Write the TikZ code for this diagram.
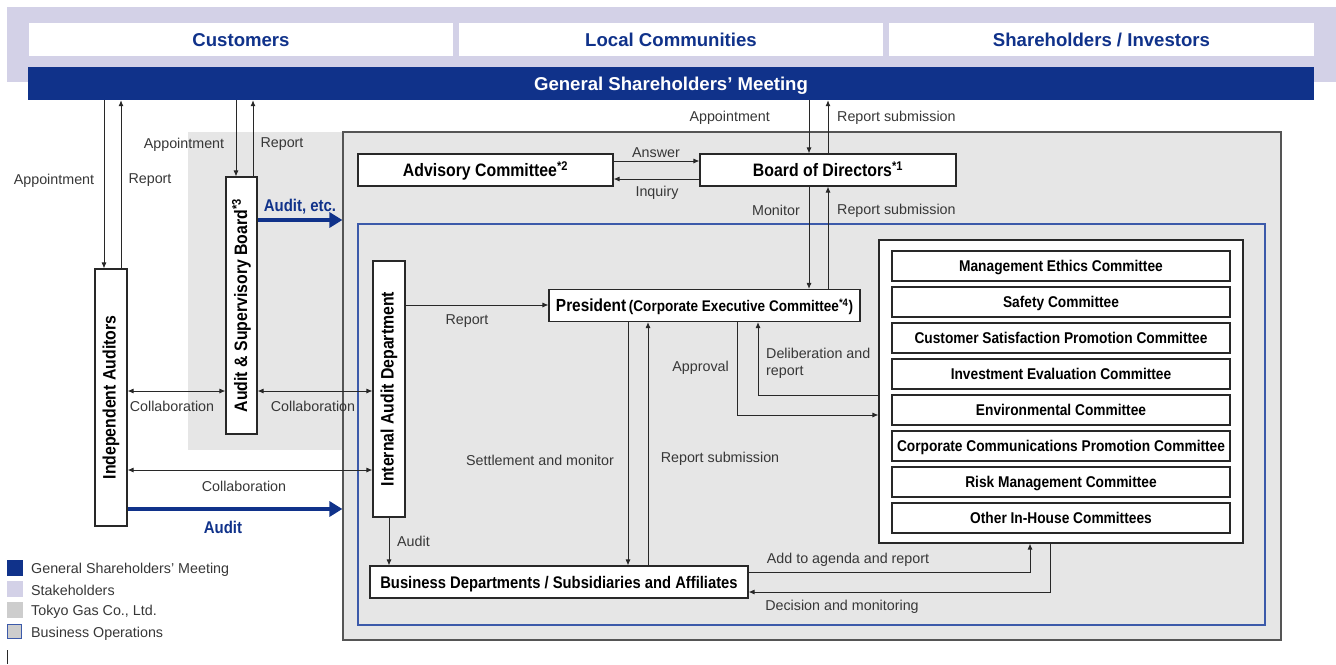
\documentclass[tikz,border=0pt]{standalone}
\usepackage{fontspec}
\usepackage{graphicx}
\setmainfont{Liberation Sans}
\newfontfamily\cf{Liberation Sans}[FakeStretch=0.88]
\usetikzlibrary{arrows.meta}
\definecolor{navy}{RGB}{16,50,138}
\definecolor{lav}{RGB}{211,209,231}
\definecolor{pgray}{RGB}{230,230,230}
\definecolor{lgray}{RGB}{205,205,205}
\definecolor{bord}{RGB}{85,85,85}
\definecolor{opblue}{RGB}{60,90,170}
\definecolor{ln}{RGB}{40,40,40}
\definecolor{txt}{RGB}{55,55,55}
\tikzset{
  box/.style={draw=ln, fill=white, line width=1.1pt, inner sep=0pt},
  ctr/.style={text height=#1, text depth=0pt},
  arr/.style={draw=ln, line width=0.9pt, -{Latex[length=6pt,width=5pt]}},
  darr/.style={draw=ln, line width=0.9pt, {Latex[length=6pt,width=5pt]}-{Latex[length=6pt,width=5pt]}},
  barr/.style={draw=navy, line width=4pt, -{Triangle[length=13pt,width=15pt]}},
  lbl/.style={font=\fontsize{14.3}{17.5}\selectfont, text=txt, inner sep=0pt, yshift=-1.5pt},
  btxt/.style={font=\cf\bfseries\fontsize{18}{20}\selectfont},
  ctxt/.style={font=\cf\bfseries\fontsize{15.6}{18}\selectfont, ctr=11.2pt},
  toptxt/.style={font=\bfseries\fontsize{18.6}{20}\selectfont, ctr=13.3pt},
  bluelbl/.style={font=\cf\bfseries\fontsize{17}{20}\selectfont, text=navy, inner sep=0pt, ctr=12.2pt},
  comm/.style={box, minimum width=338pt, minimum height=30pt, ctxt},
  legsq/.style={minimum width=15.5pt, minimum height=15.5pt, inner sep=0pt},
}
\begin{document}
\begin{tikzpicture}[x=1pt,y=-1pt]
\useasboundingbox (0,0) rectangle (1336,664);
% backgrounds
\node[fill=lav, minimum width=1329pt, minimum height=75pt, inner sep=0pt] (stake) at (671.5,44.5) {};
\node[fill=white, minimum width=424pt, minimum height=33pt, inner sep=0pt, toptxt, text=navy] (cust) at (241,39.5) {Customers};
\node[fill=white, minimum width=424pt, minimum height=33pt, inner sep=0pt, toptxt, text=navy] (locc) at (671,39.5) {Local Communities};
\node[fill=white, minimum width=425pt, minimum height=33pt, inner sep=0pt, toptxt, text=navy] (shi) at (1101.5,39.5) {Shareholders / Investors};
\node[fill=navy, minimum width=1286pt, minimum height=33pt, inner sep=0pt, toptxt, text=white] (gsm) at (671,83.5) {General Shareholders’ Meeting};

\fill[pgray] (188,132) rectangle (343,450);
\node[draw=bord, fill=pgray, line width=1.2pt, minimum width=938pt, minimum height=508pt, inner sep=0pt] (tg) at (812,386) {};
\node[draw=opblue, fill=pgray, line width=1.3pt, minimum width=907pt, minimum height=401pt, inner sep=0pt] (ops) at (811.5,424.5) {};

% main boxes
\node[box, minimum width=255pt, minimum height=32pt, btxt, ctr=12.9pt] (adv) at (485.5,170) {Advisory Committee\textsuperscript{*2}};
\node[box, minimum width=256pt, minimum height=32pt, btxt, ctr=12.9pt] (bod) at (828,170) {Board of Directors\textsuperscript{*1}};
\node[box, minimum width=311pt, minimum height=32pt, ctr=12.6pt] (pres) at (704.5,305.5) {{\cf\bfseries\fontsize{17.5}{20}\selectfont President} {\cf\bfseries\fontsize{15.4}{18}\selectfont (Corporate Executive Committee\textsuperscript{*4})}};
\node[box, minimum width=378pt, minimum height=32pt, font=\cf\bfseries\fontsize{16.8}{20}\selectfont, ctr=12pt] (bus) at (559,582) {Business Departments / Subsidiaries and Affiliates};
\node[box, minimum width=32pt, minimum height=257pt, btxt] (indep) at (111,397.5) {\rotatebox{90}{Independent Auditors}};
\node[box, minimum width=31pt, minimum height=257pt, btxt] (asb) at (241.5,305.5) {\rotatebox{90}{Audit \& Supervisory Board\textsuperscript{*3}}};
\node[box, minimum width=32pt, minimum height=256pt, btxt] (iad) at (389,389) {\rotatebox{90}{Internal Audit Department}};

% committees
\node[box, minimum width=364pt, minimum height=303pt] (comm) at (1061,391.5) {};
\node[comm] (c1) at (1061,266) {Management Ethics Committee};
\node[comm] (c2) at (1061,302) {Safety Committee};
\node[comm] (c3) at (1061,338) {Customer Satisfaction Promotion Committee};
\node[comm] (c4) at (1061,374) {Investment Evaluation Committee};
\node[comm] (c5) at (1061,410) {Environmental Committee};
\node[comm] (c6) at (1061,446) {Corporate Communications Promotion Committee};
\node[comm] (c7) at (1061,482) {Risk Management Committee};
\node[comm] (c8) at (1061,518) {Other In-House Committees};

% connectors: GSM
\draw[arr] (gsm.south -| 104,0) -- (indep.north -| 104,0);
\draw[arr] (indep.north -| 121,0) -- (gsm.south -| 121,0);
\draw[arr] (gsm.south -| 236,0) -- (asb.north -| 236,0);
\draw[arr] (asb.north -| 253,0) -- (gsm.south -| 253,0);
\draw[arr] (gsm.south -| 809,0) -- (bod.north -| 809,0);
\draw[arr] (bod.north -| 828,0) -- (gsm.south -| 828,0);
% board / advisory
\draw[arr] (adv.east |- 0,161) -- (bod.west |- 0,161);
\draw[arr] (bod.west |- 0,179) -- (adv.east |- 0,179);
% board / president
\draw[arr] (bod.south -| 809,0) -- (pres.north -| 809,0);
\draw[arr] (pres.north -| 828,0) -- (bod.south -| 828,0);
% internal audit
\draw[arr] (iad.east |- 0,305) -- (pres.west |- 0,305);
\draw[arr] (iad.south) -- (bus.north -| iad.south);
% collaborations
\draw[darr] (indep.east |- 0,391) -- (asb.west |- 0,391);
\draw[darr] (asb.east |- 0,391) -- (iad.west |- 0,391);
\draw[darr] (indep.east |- 0,470) -- (iad.west |- 0,470);
% blue audits
\draw[barr] (asb.east |- 0,220) -- (tg.west |- 0,220);
\draw[barr] (indep.east |- 0,509) -- (tg.west |- 0,509);
% president / business
\draw[arr] (pres.south -| 628,0) -- (bus.north -| 628,0);
\draw[arr] (bus.north -| 648,0) -- (pres.south -| 648,0);
% president / committees
\draw[arr] (pres.south -| 737,0) |- (comm.west |- 0,415);
\draw[arr] (comm.west |- 0,395) -| (pres.south -| 758,0);
% business / committees
\draw[arr] (bus.east |- 0,572) -| (comm.south -| 1030,0);
\draw[arr] (comm.south -| 1050,0) |- (bus.east |- 0,592);

% labels
\node[lbl] (l1) at (54,179) {Appointment};
\node[lbl] (l2) at (150,179) {Report};
\node[lbl] (l3) at (184,143) {Appointment};
\node[lbl] (l4) at (282,143) {Report};
\node[lbl, anchor=east] (l5) at (770,116) {Appointment};
\node[lbl, anchor=west] (l6) at (837,116) {Report submission};
\node[lbl] (l7) at (656,151) {Answer};
\node[lbl] (l8) at (657,191) {Inquiry};
\node[lbl, anchor=east] (l9) at (800,209) {Monitor};
\node[lbl, anchor=west] (l10) at (837,209) {Report submission};
\node[lbl] (l11) at (467,320) {Report};
\node[lbl] (l12) at (172,405) {Collaboration};
\node[lbl] (l13) at (313,405) {Collaboration};
\node[lbl] (l14) at (244,485) {Collaboration};
\node[bluelbl] (l15) at (300,205) {Audit, etc.};
\node[bluelbl] (l16) at (223,527) {Audit};
\node[lbl, anchor=east] (l17) at (729,366) {Approval};
\node[lbl, anchor=west, align=left] (l18) at (766,362) {Deliberation and\\report};
\node[lbl] (l19) at (540,459) {Settlement and monitor};
\node[lbl] (l20) at (720,457) {Report submission};
\node[lbl, anchor=west] (l21) at (397,540) {Audit};
\node[lbl] (l22) at (848,558) {Add to agenda and report};
\node[lbl] (l23) at (842,605) {Decision and monitoring};

% legend
\node[legsq, fill=navy] (g1) at (14.75,568) {};
\node[legsq, fill=lav] (g2) at (14.75,589) {};
\node[legsq, fill=lgray] (g3) at (14.75,610) {};
\node[legsq, fill=lgray, draw=opblue, line width=1.3pt, minimum width=14pt, minimum height=14pt] (g4) at (14.75,631.5) {};
\node[lbl, anchor=west] (t1) at (31,568) {General Shareholders’ Meeting};
\node[lbl, anchor=west] (t2) at (31,589) {Stakeholders};
\node[lbl, anchor=west] (t3) at (31,610.5) {Tokyo Gas Co., Ltd.};
\node[lbl, anchor=west] (t4) at (31,632) {Business Operations};
\draw[ln, line width=1pt] (7,650) -- (7,664);
\end{tikzpicture}
\end{document}
